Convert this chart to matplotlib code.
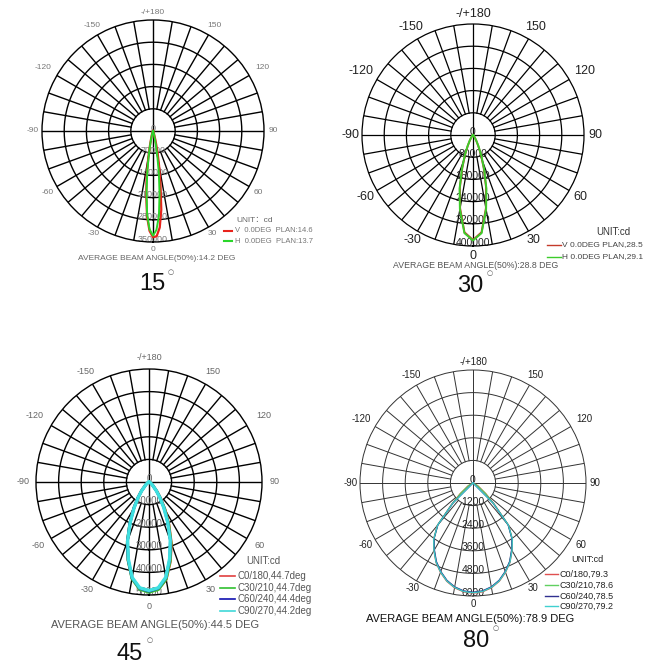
import numpy as np
import matplotlib
matplotlib.use('Agg')
import matplotlib.pyplot as plt
from matplotlib.lines import Line2D

plt.rcParams['font.family'] = ['Liberation Sans', 'Noto Sans CJK SC', 'DejaVu Sans']

W, H = 650, 664

# ---- dados (intensidade em cd por ângulo gama) ----
angles_15 = [-90, -40, -30, -20, -15, -12, -10, -8, -6, -4, -2, 0,
             2, 4, 6, 8, 10, 12, 15, 20, 30, 40, 90]
v_15 = [0, 1000, 2500, 7000, 20000, 45000, 85000, 145000, 205000, 270000, 315000, 335000,
        332000, 305000, 250000, 170000, 110000, 70000, 30000, 9000, 2500, 1000, 0]
h_15 = [0, 800, 2000, 5000, 15000, 40000, 75000, 130000, 195000, 265000, 310000, 330000,
        312000, 268000, 198000, 132000, 76000, 41000, 15000, 5000, 2000, 800, 0]

angles_30 = [-90, -60, -50, -40, -35, -30, -26, -22, -18, -14, -10, -5, 0,
             5, 10, 14, 18, 22, 26, 30, 35, 40, 50, 60, 90]
v_30 = [0, 800, 2000, 5000, 11000, 23000, 42000, 76000, 125000, 195000, 268000, 352000, 378000,
        352000, 268000, 195000, 125000, 76000, 42000, 23000, 11000, 5000, 2000, 800, 0]
h_30 = [0, 800, 2000, 6000, 12000, 25000, 45000, 80000, 130000, 200000, 272000, 355000, 380000,
        355000, 272000, 200000, 130000, 80000, 45000, 25000, 12000, 6000, 2000, 800, 0]

angles_45 = [-90, -70, -60, -50, -40, -35, -30, -25, -20, -15, -10, -5, 0,
             5, 10, 15, 20, 25, 30, 35, 40, 50, 60, 70, 90]
c0_45 = [0, 200, 700, 2000, 5300, 8700, 13600, 20000, 28000, 35800, 43300, 47400, 48500,
         47600, 43800, 36500, 29000, 21000, 14500, 9300, 5700, 2100, 700, 200, 0]
c30_45 = [0, 200, 700, 1900, 5200, 8600, 13500, 20100, 28200, 35900, 43500, 47700, 48800,
          47800, 43700, 36200, 28600, 20600, 14000, 8900, 5400, 1900, 700, 200, 0]
c60_45 = [0, 200, 600, 1800, 5200, 8600, 13500, 19900, 27900, 35600, 43100, 47200, 48300,
          47200, 43000, 35400, 27700, 19600, 13200, 8400, 5000, 1800, 600, 200, 0]
c90_45 = [0, 200, 600, 1800, 5000, 8300, 13100, 19600, 27600, 35300, 42900, 47000, 48000,
          47000, 42800, 35200, 27500, 19500, 13000, 8200, 5000, 1800, 600, 200, 0]

angles_80 = [-90, -60, -50, -45, -40, -35, -30, -25, -20, -15, -10, -5, 0,
             5, 10, 15, 20, 25, 30, 35, 40, 45, 50, 60, 90]
c0_80 = [0, 300, 900, 1600, 2950, 3650, 4150, 4650, 5050, 5400, 5650, 5800, 5850,
         5800, 5650, 5400, 5050, 4650, 4150, 3650, 2950, 1600, 900, 300, 0]
c30_80 = [0, 250, 850, 1550, 2920, 3620, 4120, 4620, 5020, 5370, 5620, 5770, 5820,
          5770, 5620, 5370, 5020, 4620, 4120, 3620, 2920, 1550, 850, 250, 0]
c60_80 = [0, 0, 0, 1500, 2900, 3600, 4100, 4600, 5000, 5350, 5600, 5750, 5800,
          5750, 5600, 5350, 5000, 4600, 4100, 3600, 2900, 1500, 0, 0, 0]
c90_80 = [0, 0, 0, 1520, 2930, 3640, 4140, 4640, 5030, 5380, 5630, 5780, 5830,
          5780, 5630, 5380, 5030, 4640, 4140, 3640, 2930, 1520, 0, 0, 0]

angle_labels = {180: '-/+180', 150: '150', -150: '-150', 120: '120', -120: '-120',
                90: '90', -90: '-90', 60: '60', -60: '-60', 30: '30', -30: '-30', 0: '0'}
# afastamento extra de alguns rótulos de ângulo (como no original)
label_extra = {120: 0.07, -120: 0.07, 150: 0.03, -150: 0.03, 60: 0.03, -60: 0.03, 90: 0.01, -90: 0.01}


def px(x, y):
    """pixel -> fração da figura"""
    return x / W, 1 - y / H


def polar_diagram(fig, cx, cy, R, ring_step, grid_lw, grid_color, txt_color,
                  angle_fs, ring_fs, label_r=1.08):
    l, b = px(cx - R, cy + R)
    ax = fig.add_axes([l, b, 2 * R / W, 2 * R / H], projection='polar')
    rmax = ring_step * 5
    ax.set_theta_zero_location('S')
    ax.set_theta_direction(1)
    ax.set_ylim(0, rmax)
    ax.set_xticks([])
    ax.set_yticks([])
    ax.grid(False)
    ax.spines['polar'].set_linewidth(grid_lw)
    ax.spines['polar'].set_color(grid_color)
    ax.patch.set_alpha(0)

    circ = np.linspace(0, 2 * np.pi, 361)
    for k in range(1, 5):
        ax.plot(circ, [k * ring_step] * len(circ), color=grid_color, lw=grid_lw, zorder=1)
    for a in range(0, 360, 10):
        r0 = 0 if a % 90 == 0 else ring_step
        ax.plot([np.deg2rad(a)] * 2, [r0, rmax], color=grid_color, lw=grid_lw, zorder=1)

    for a, lab in angle_labels.items():
        f = label_r + label_extra.get(a, 0)
        ax.text(np.deg2rad(a), rmax * f, lab, ha='center', va='center',
                fontsize=angle_fs, color=txt_color)
    for k in range(0, 6):
        ax.text(0, k * ring_step + rmax * 0.015, f'{k * ring_step}', ha='center', va='bottom',
                fontsize=ring_fs, color=txt_color, zorder=2)
    return ax


def legend(fig, x0, x1, tx, ys, labels, colors, fs, txt_color, lw=1.2):
    for y, lab, c in zip(ys, labels, colors):
        xa, ya = px(x0, y)
        xb, _ = px(x1, y)
        fig.add_artist(Line2D([xa, xb], [ya, ya], color=c, lw=lw))
        fig.text(*px(tx, y), lab, ha='left', va='center', fontsize=fs, color=txt_color)


def title(fig, x, y, txt, dx, dy):
    fig.text(*px(x, y), txt, ha='center', va='center', fontsize=17, color='#111')
    fig.text(*px(x + dx, y + dy), '○', ha='center', va='center', fontsize=5, color='#555',
             family='DejaVu Sans')


fig = plt.figure(figsize=(W / 100, H / 100), dpi=100)
fig.patch.set_facecolor('white')

# ---- 15 graus ----
ax1 = polar_diagram(fig, 153, 131, 111, 70000, 1.0, 'black', '#777', 6, 6.5, 1.07)
ax1.plot(np.deg2rad(angles_15), v_15, color='#e8231c', lw=1.6, zorder=3)
ax1.plot(np.deg2rad(angles_15), h_15, color='#2ad62a', lw=1.4, zorder=4)
fig.text(*px(255, 221), 'UNIT：cd', ha='center', va='center', fontsize=6, color='#666')
legend(fig, 224, 232, 235, [231, 241], ['V  0.0DEG  PLAN:14.6', 'H  0.0DEG  PLAN:13.7'],
       ['#e8231c', '#2ad62a'], 5.5, '#777', lw=1.5)
fig.text(*px(157, 259), 'AVERAGE BEAM ANGLE(50%):14.2 DEG', ha='center', va='center',
         fontsize=6, color='#666')
title(fig, 152, 284, '15', 19, -12)

# ---- 30 graus ----
ax2 = polar_diagram(fig, 473, 135, 111, 80000, 0.9, 'black', '#222', 9, 7.5, 1.09)
ax2.plot(np.deg2rad(angles_30), v_30, color='#c43a2a', lw=1.4, zorder=3)
ax2.plot(np.deg2rad(angles_30), h_30, color='#3ccc2a', lw=1.4, zorder=4)
fig.text(*px(613, 232), 'UNIT:cd', ha='center', va='center', fontsize=7, color='#333')
legend(fig, 547, 561, 562, [245, 257], ['V 0.0DEG PLAN,28.5', 'H 0.0DEG PLAN,29.1'],
       ['#c43a2a', '#3ccc2a'], 6, '#444', lw=1.0)
fig.text(*px(476, 265), 'AVERAGE BEAM ANGLE(50%):28.8 DEG', ha='center', va='center',
         fontsize=6.3, color='#555')
title(fig, 470, 286, '30', 20, -13)

# ---- 45 graus ----
ax3 = polar_diagram(fig, 149, 482, 113, 10000, 1.0, 'black', '#666', 6.5, 7, 1.1)
cols45 = ['#e0402a', '#35c235', '#2020c0', '#3ee0e0']
for vals, c, lw in zip([c0_45, c30_45, c60_45, c90_45], cols45, [2.0, 2.0, 2.0, 2.4]):
    ax3.plot(np.deg2rad(angles_45), vals, color=c, lw=lw, zorder=3)
fig.text(*px(263, 561), 'UNIT:cd', ha='center', va='center', fontsize=7, color='#555')
legend(fig, 220, 235, 237, [576, 588, 599, 611],
       ['C0/180,44.7deg', 'C30/210,44.7deg', 'C60/240,44.4deg', 'C90/270,44.2deg'],
       ['#e04040', '#30c030', '#1010b0', '#40d8d8'], 7, '#555')
fig.text(*px(155, 625), 'AVERAGE BEAM ANGLE(50%):44.5 DEG', ha='center', va='center',
         fontsize=8, color='#555')
title(fig, 130, 654, '45', 20, -14)

# ---- 80 graus ----
ax4 = polar_diagram(fig, 473, 483, 113, 1200, 0.7, '#333', '#222', 7, 7.5, 1.07)
cols80 = ['#d84a40', '#5ccc5c', '#303090', '#3cc8c8']
for vals, c in zip([c0_80, c30_80, c60_80, c90_80], cols80):
    ax4.plot(np.deg2rad(angles_80), vals, color=c, lw=0.9, zorder=3)
fig.text(*px(587, 560), 'UNIT:cd', ha='center', va='center', fontsize=6.5, color='#222')
legend(fig, 545, 558, 560, [574, 585, 596, 606],
       ['C0/180,79.3', 'C30/210,78.6', 'C60/240,78.5', 'C90/270,79.2'],
       ['#e05050', '#60d060', '#303090', '#40d0d0'], 6.5, '#222', lw=1.0)
fig.text(*px(470, 619), 'AVERAGE BEAM ANGLE(50%):78.9 DEG', ha='center', va='center',
         fontsize=8, color='#111')
title(fig, 476, 641, '80', 20, -13)

fig.savefig('out.png', dpi=100, facecolor='white')
